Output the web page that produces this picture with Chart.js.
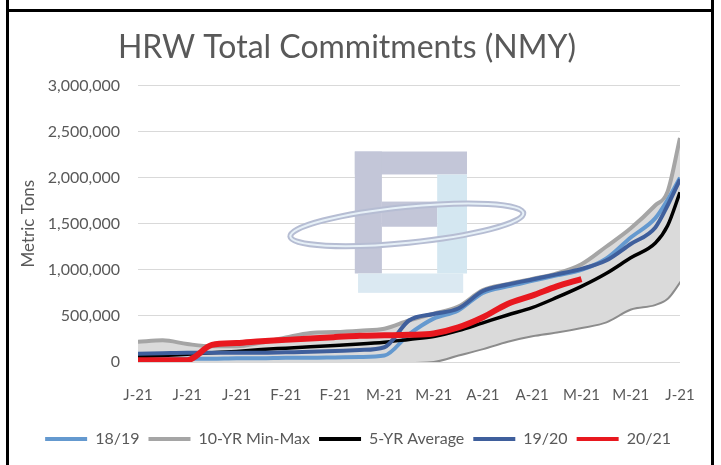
<!DOCTYPE html>
<html>
<head>
<meta charset="utf-8">
<script src="https://cdn.jsdelivr.net/npm/chart.js@4.4.0/dist/chart.umd.min.js"></script>
<style>
  html, body { margin: 0; padding: 0; background: #fff; }
  #wrap { position: relative; width: 721px; height: 465px; overflow: hidden; }
  #chart { position: absolute; left: 0; top: 0; }
  .edge { position: absolute; background: #000; }
</style>
</head>
<body>
<div id="wrap">
  <canvas id="chart" width="721" height="465"></canvas>
  <div class="edge" style="left:6px;top:0;width:3px;height:465px"></div>
  <div class="edge" style="left:711px;top:0;width:3px;height:465px"></div>
  <div class="edge" style="left:6px;top:9px;width:708px;height:3px"></div>
</div>
<script>
// Tick labels along the bottom (one per label position)
const tickLabels = ['J-21', 'J-21', 'J-21', 'F-21', 'F-21', 'M-21', 'M-21', 'A-21', 'A-21', 'M-21', 'M-21', 'J-21'];

// Positions of the readings, in tick-label units
const weeks = [0, 0.5, 1, 1.5, 2, 2.5, 3, 3.5, 4, 4.5, 5, 5.5, 6, 6.5, 7, 7.5, 8, 8.5, 9, 9.5, 10, 10.5, 10.75, 11];

// Metric tons
const mt1819 = [30000, 30000, 35000, 35000, 40000, 40000, 45000, 45000, 50000, 55000, 70000, 300000,
  470000, 560000, 750000, 820000, 880000, 940000, 1000000, 1120000, 1350000, 1560000, 1760000, 2000000];
const mt10yrMax = [220000, 235000, 195000, 170000, 170000, 210000, 265000, 315000, 325000, 340000, 360000, 450000,
  525000, 600000, 780000, 845000, 900000, 960000, 1060000, 1250000, 1450000, 1700000, 1850000, 2430000];
const mt10yrMin = [0, 0, 0, 0, 0, 0, 0, 0, 0, 0, 0, 0,
  10000, 80000, 150000, 230000, 290000, 330000, 380000, 440000, 580000, 630000, 700000, 880000];
const mt5yrAvg = [60000, 70000, 85000, 100000, 115000, 135000, 150000, 165000, 180000, 195000, 215000, 245000,
  275000, 340000, 425000, 510000, 590000, 700000, 820000, 960000, 1130000, 1290000, 1480000, 1840000];
const mt1920 = [90000, 95000, 100000, 100000, 100000, 100000, 105000, 110000, 120000, 130000, 160000, 450000,
  520000, 580000, 770000, 840000, 895000, 950000, 1010000, 1100000, 1280000, 1460000, 1700000, 1980000];
const mt2021 = [20000, 20000, 20000, 185000, 205000, 225000, 240000, 255000, 270000, 285000, 290000, 295000,
  310000, 375000, 485000, 630000, 720000, 820000, 900000];

const FONT = 'Lato';
const TEXT = '#595959';

function pts(vals) {
  return vals.map((v, i) => ({x: weeks[i], y: v}));
}

function line(label, vals, color, width, order, extra) {
  return Object.assign({
    label: label,
    data: pts(vals),
    borderColor: color,
    backgroundColor: color,
    borderWidth: width,
    pointRadius: 0,
    pointHoverRadius: 0,
    cubicInterpolationMode: 'monotone',
    fill: false,
    order: order
  }, extra || {});
}

// faint logo watermark behind the lines
const logoPlugin = {
  id: 'logo',
  beforeDatasetsDraw(chart) {
    const {ctx, chartArea: a} = chart;
    const w = a.right - a.left, h = a.bottom - a.top;
    const X = f => a.left + f * w;
    const Y = f => a.top + f * h;
    ctx.save();
    ctx.fillStyle = '#c3c6d8';
    ctx.fillRect(X(0.400), Y(0.239), X(0.607) - X(0.400), Y(0.322) - Y(0.239));
    ctx.fillRect(X(0.400), Y(0.239), X(0.450) - X(0.400), Y(0.680) - Y(0.239));
    ctx.fillRect(X(0.450), Y(0.420), X(0.552) - X(0.450), Y(0.511) - Y(0.420));
    ctx.fillStyle = '#d4e7f1';
    ctx.fillRect(X(0.552), Y(0.322), X(0.607) - X(0.552), Y(0.680) - Y(0.322));
    ctx.fillStyle = '#dbe9f2';
    ctx.fillRect(X(0.406), Y(0.680), X(0.600) - X(0.406), Y(0.750) - Y(0.680));
    ctx.beginPath();
    ctx.ellipse(X(0.496), Y(0.504), w * 0.216, h * 0.065, -0.1, 0, Math.PI * 2);
    ctx.strokeStyle = '#b6bdd3';
    ctx.lineWidth = 6;
    ctx.stroke();
    ctx.strokeStyle = '#e6f0f7';
    ctx.lineWidth = 2;
    ctx.stroke();
    ctx.restore();
  }
};

const datasets = [
  line('18/19', mt1819, '#6499cf', 4, 3),
  line('10-YR Min-Max', mt10yrMax, '#a5a5a5', 4, 4, {fill: '+1', backgroundColor: '#dadada'}),
  line('10-YR Min', mt10yrMin, '#8c8c8c', 4, 5),
  line('5-YR Average', mt5yrAvg, '#000000', 3.5, 2),
  line('19/20', mt1920, '#3f5f9c', 4, 1),
  line('20/21', mt2021, '#e8181f', 6, 0)
];

const PAD_BOTTOM = 8;
const PLOT_BOTTOM = 362;

new Chart(document.getElementById('chart'), {
  type: 'line',
  data: {datasets: datasets},
  plugins: [logoPlugin],
  options: {
    responsive: false,
    animation: false,
    layout: {padding: {left: 14, right: 41, top: 12, bottom: PAD_BOTTOM}},
    plugins: {
      tooltip: {enabled: false},
      title: {
        display: true,
        text: 'HRW Total Commitments (NMY)',
        color: TEXT,
        font: {family: FONT, size: 32, weight: 'normal'},
        padding: {top: 16, bottom: 19}
      },
      legend: {
        position: 'bottom',
        align: 'end',
        labels: {
          color: TEXT,
          font: {family: FONT, size: 16},
          boxWidth: 42,
          boxHeight: 4,
          padding: 9,
          generateLabels: chart => chart.data.datasets
            .map((ds, i) => ({
              text: ds.label,
              fillStyle: ds.borderColor,
              strokeStyle: ds.borderColor,
              lineWidth: 0,
              hidden: false,
              datasetIndex: i,
              fontColor: TEXT
            }))
            .filter(it => it.text !== '10-YR Min')
        }
      }
    },
    scales: {
      x: {
        type: 'linear',
        min: 0,
        max: 11,
        grid: {display: false},
        border: {display: false},
        ticks: {
          stepSize: 1,
          autoSkip: false,
          maxRotation: 0,
          color: TEXT,
          padding: 16,
          font: {family: FONT, size: 15},
          callback: v => tickLabels[v]
        },
        afterFit: s => {
          s.height = 465 - PLOT_BOTTOM - PAD_BOTTOM - s.chart.legend.height;
        }
      },
      y: {
        min: 0,
        max: 3000000,
        grid: {color: '#d9d9d9', drawTicks: false},
        border: {display: false},
        ticks: {
          stepSize: 500000,
          color: TEXT,
          padding: 18,
          font: {family: FONT, size: 16},
          callback: v => v.toLocaleString('en-US')
        },
        title: {
          display: true,
          text: 'Metric Tons',
          color: TEXT,
          font: {family: FONT, size: 17}
        },
        afterFit: s => { s.width = 124; }
      }
    }
  }
});
</script>
</body>
</html>
